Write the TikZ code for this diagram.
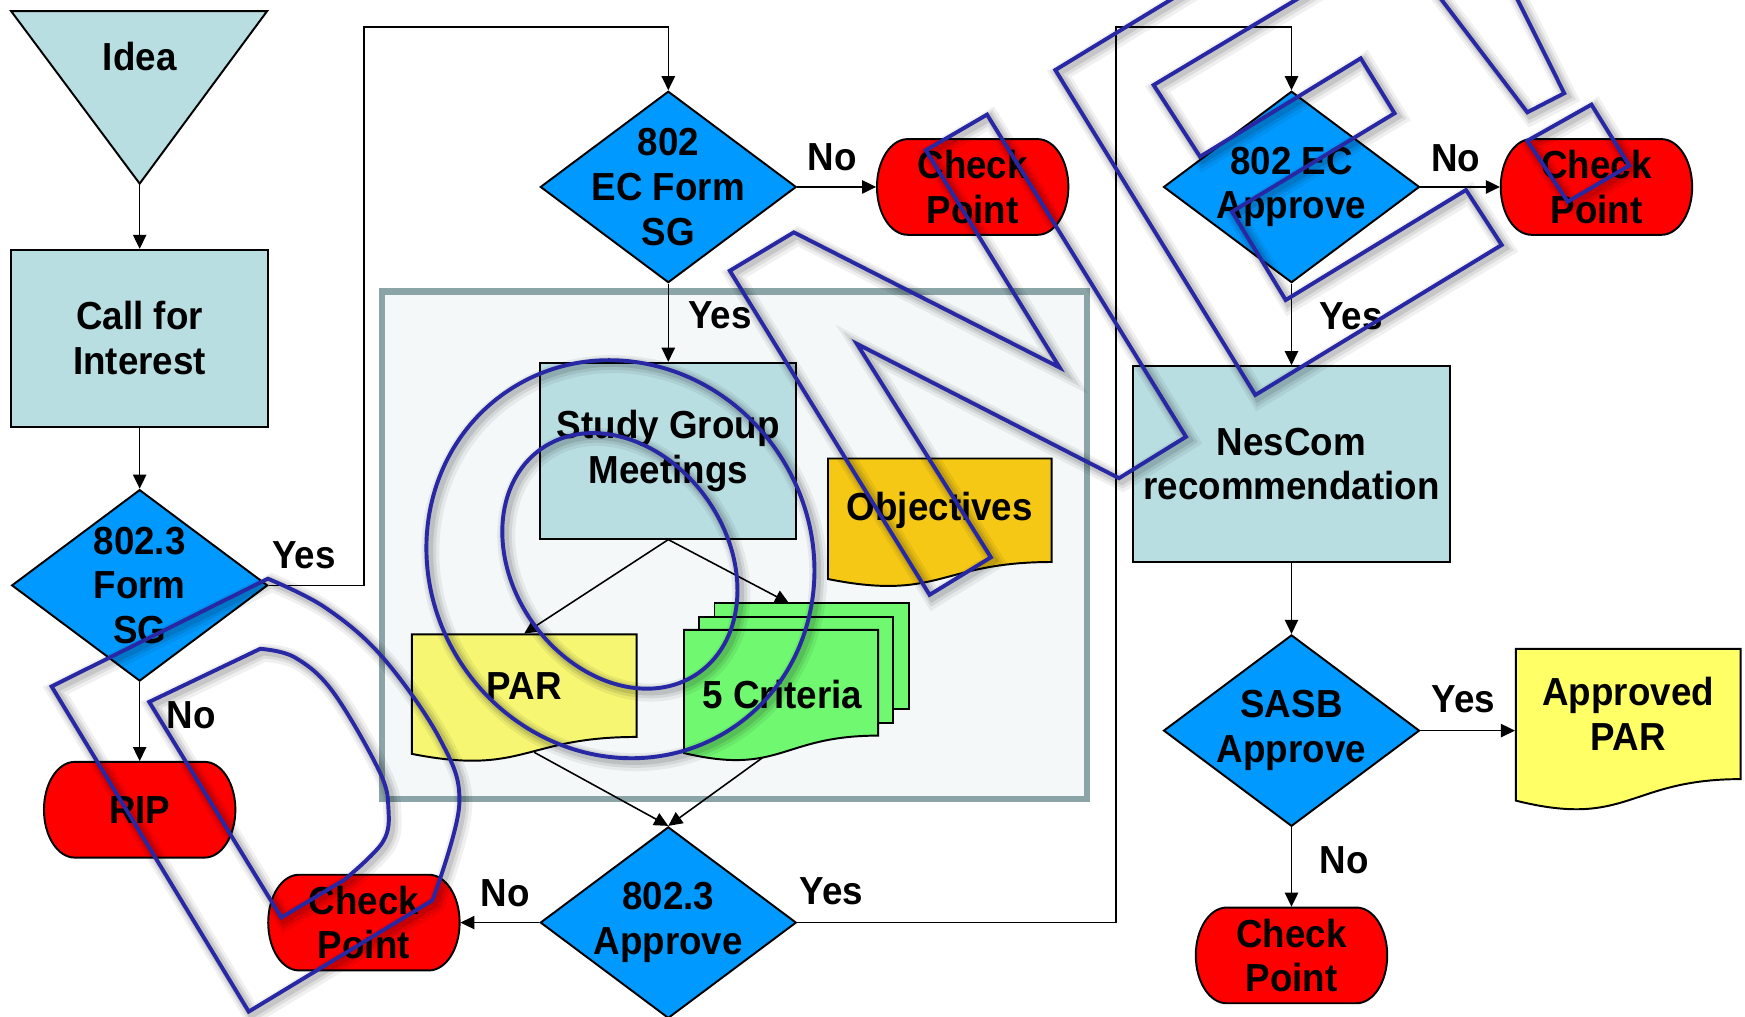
\documentclass[tikz,border=0pt]{standalone}
\usepackage{fontspec}
\setmainfont{Liberation Sans}[FakeStretch=0.94]
\usetikzlibrary{shapes.geometric,arrows.meta}
\definecolor{procblue}{HTML}{B8DEE2}
\definecolor{decblue}{HTML}{0099FF}
\definecolor{cpred}{HTML}{FF0000}
\definecolor{paryel}{HTML}{F6F672}
\definecolor{appyel}{HTML}{FFFF66}
\definecolor{objgold}{HTML}{F5C816}
\definecolor{critgrn}{HTML}{70F870}
\definecolor{panelfill}{HTML}{F4F8F9}
\definecolor{paneldraw}{HTML}{8AA4A7}
\definecolor{stampblue}{RGB}{40,40,165}
\begin{document}
\begin{tikzpicture}[yscale=-1, font=\bfseries\fontsize{10}{11.4}\selectfont,
    proc/.style={draw, line width=.5pt, fill=procblue, inner sep=0pt, align=center},
    decision/.style={diamond, draw, line width=.5pt, fill=decblue, minimum width=2.3cm, minimum height=1.72cm, inner sep=0pt},
    term/.style={draw, line width=.5pt, fill=cpred},
    doc/.style={draw, line width=.5pt},
    arr/.style={line width=.4pt, -{Triangle[length=3.6pt,width=3.4pt]}},
    stamp/.style={draw=\sc, draw opacity=\so, line width=\sw}]
\useasboundingbox (0,0) rectangle (15.68,9.13);

\node[draw=paneldraw, fill=panelfill, line width=1.6pt, minimum width=6.34cm, minimum height=4.56cm] (panel) at (6.60,4.90) {};

\draw[proc] (0.10,0.10) -- (2.40,0.10) -- (1.255,1.65) coordinate (idea) -- cycle;
\node (idea-t) at (1.255,0.51) {Idea};

\foreach \x/\y/\w/\h/\n/\t in {1.255/3.04/2.31/1.59/call/{Call for\\Interest}, 6.005/4.05/2.30/1.58/sgm/{Study Group\\Meetings}, 11.605/4.17/2.85/1.76/nescom/{NesCom\\recommendation}}
    \node[proc, minimum width=\w cm, minimum height=\h cm] (\n) at (\x,\y) {\t};

\foreach \x/\y/\n in {1.255/5.26/formsg, 6.005/1.68/ecform, 6.005/8.29/app3, 11.605/1.68/ecapp, 11.605/6.565/sasb}
    \node[decision] (\n) at (\x,\y) {};
\foreach \n/\t in {formsg/{802.3\\Form\\SG}, ecform/{802\\EC Form\\SG}, app3/{802.3\\Approve}, ecapp/{802 EC\\Approve}, sasb/{SASB\\Approve}}
    \node[align=center] (\n-t) at (\n) {\t};

\foreach \x/\y/\n/\t in {1.255/7.276/rip/RIP, 3.27/8.29/cp1/{Check\\Point}, 8.74/1.68/cp2/{Check\\Point}, 14.345/1.68/cp3/{Check\\Point}, 11.605/8.585/cp4/{Check\\Point}} {
    \draw[term] (\x-0.583,\y-0.43) -- (\x+0.583,\y-0.43) arc[start angle=-90, end angle=90, x radius=0.277, y radius=0.43] -- (\x-0.583,\y+0.43) arc[start angle=90, end angle=270, x radius=0.277, y radius=0.43] -- cycle;
    \node[align=center, minimum width=1.72cm, minimum height=0.86cm, inner sep=0pt] (\n) at (\x,\y) {\t};
}

\draw[doc, fill=paryel] (3.70,5.70) -- (5.72,5.70) -- (5.72,6.622) .. controls (4.71,6.622) and (4.71,6.974) .. (3.70,6.774) -- cycle;
\node[minimum width=2.02cm, minimum height=0.922cm, inner sep=0pt] (par) at (4.71,6.161) {PAR};
\coordinate (par-b) at (4.80,6.76);

\draw[doc, fill=objgold] (7.44,4.12) -- (9.45,4.12) -- (9.45,5.05) .. controls (8.445,5.05) and (8.445,5.405) .. (7.44,5.203) -- cycle;
\node[minimum width=2.01cm, minimum height=0.93cm, inner sep=0pt] (obj) at (8.445,4.585) {Objectives};

\draw[doc, fill=critgrn] (6.42,5.42) rectangle (8.17,6.37);
\draw[doc, fill=critgrn] (6.28,5.54) rectangle (8.02,6.50);
\draw[doc, fill=critgrn] (6.146,5.66) -- (7.89,5.66) -- (7.89,6.61) .. controls (7.018,6.61) and (7.018,6.972) .. (6.146,6.767) -- cycle;
\node (crit) at (7.03,6.24) {5 Criteria};
\coordinate (crit-t) at (7.09,5.42);
\coordinate (crit-b) at (6.85,6.81);

\draw[doc, fill=appyel] (13.62,5.83) -- (15.64,5.83) -- (15.64,7.001) .. controls (14.63,7.001) and (14.63,7.447) .. (13.62,7.194) -- cycle;
\node[align=center, minimum width=2.02cm, minimum height=1.171cm, inner sep=0pt] (apppar) at (14.63,6.415) {Approved\\PAR};

\draw[arr] (idea) -- (call);
\draw[arr] (call) -- (formsg);
\draw[arr] (formsg.east) -| (3.27,0.245) -| (ecform.north);
\draw[arr] (formsg) -- (rip);
\draw[arr] (ecform) -- (cp2);
\draw[arr] (ecform) -- (sgm);
\draw[arr] (sgm.south) -- (par.north);
\draw[arr] (sgm.south) -- (crit-t);
\draw[arr] (par-b) -- (app3.north);
\draw[arr] (crit-b) -- (app3.north);
\draw[arr] (app3) -- (cp1);
\draw[arr] (app3.east) -| (10.03,0.245) -| (ecapp.north);
\draw[arr] (ecapp) -- (cp3);
\draw[arr] (ecapp) -- (nescom);
\draw[arr] (nescom) -- (sasb);
\draw[arr] (sasb.east) -- (sasb.east -| apppar.west);
\draw[arr] (sasb) -- (cp4);

\foreach \x/\y/\n/\t in {2.73/4.99/yes1/Yes, 1.72/6.43/no1/No, 4.54/8.03/no2/No, 7.47/8.01/yes2/Yes, 7.477/1.41/no3/No, 6.47/2.83/yes3/Yes, 13.08/1.42/no4/No, 12.14/2.84/yes4/Yes, 13.15/6.285/yes5/Yes, 12.08/7.73/no5/No}
    \node (\n) at (\x,\y) {\t};

\foreach \sd/\so/\sc/\sw in {0.035/0.06/black/4.6pt, 0.03/0.08/black/3.2pt, 0.025/0.1/black/2pt, 0/1/stampblue/1pt} {
  \begin{scope}[shift={(\sd,\sd)}]
    \draw[stamp] (0.464,6.168) -- (2.235,9.09) -- (3.886,8.09) -- plot[smooth, tension=.6] coordinates {(3.886,8.09) (4.127,7.229) (3.955,6.645) (3.439,5.907) (2.923,5.46) (2.407,5.20)} -- cycle;
    \draw[stamp] (1.341,6.307) -- (2.528,8.244) -- (3.095,7.905) -- plot[smooth, tension=.6] coordinates {(3.095,7.905) (3.439,7.567) (3.49,7.26) (3.404,6.92) (2.99,6.214) (2.648,5.907) (2.338,5.83)} -- cycle;
    \draw[stamp, rotate around={-33:(5.575,5.025)}] (5.575,5.025) ellipse [x radius=1.71, y radius=1.82];
    \draw[stamp, rotate around={-35:(5.57,5.04)}] (5.57,5.04) ellipse [x radius=0.96, y radius=1.23];
    \draw[stamp] (6.558,2.433) -- (7.133,2.088) -- (9.522,3.303) -- (8.319,1.35) -- (8.869,1.03) -- (10.657,3.925) -- (10.055,4.297) -- (7.70,3.09) -- (8.904,5.008) -- (8.353,5.345) -- cycle;
    \draw[stamp] (9.483,0.629) -- (11.697,-0.719) -- (12.018,-0.225) -- (10.366,0.764) -- (10.783,1.408) -- (12.227,0.524) -- (12.531,1.018) -- (11.071,1.902) -- (11.553,2.696) -- (13.173,1.707) -- (13.494,2.201) -- (11.28,3.549) -- cycle;
    \draw[stamp] (12.345,-0.8) -- (13.724,1.009) -- (14.056,0.838) -- (13.239,-0.8) -- cycle;
    \draw[stamp] (13.724,1.265) -- (14.30,0.94) -- (14.64,1.488) -- (14.087,1.812) -- cycle;
  \end{scope}
}
\end{tikzpicture}
\end{document}
